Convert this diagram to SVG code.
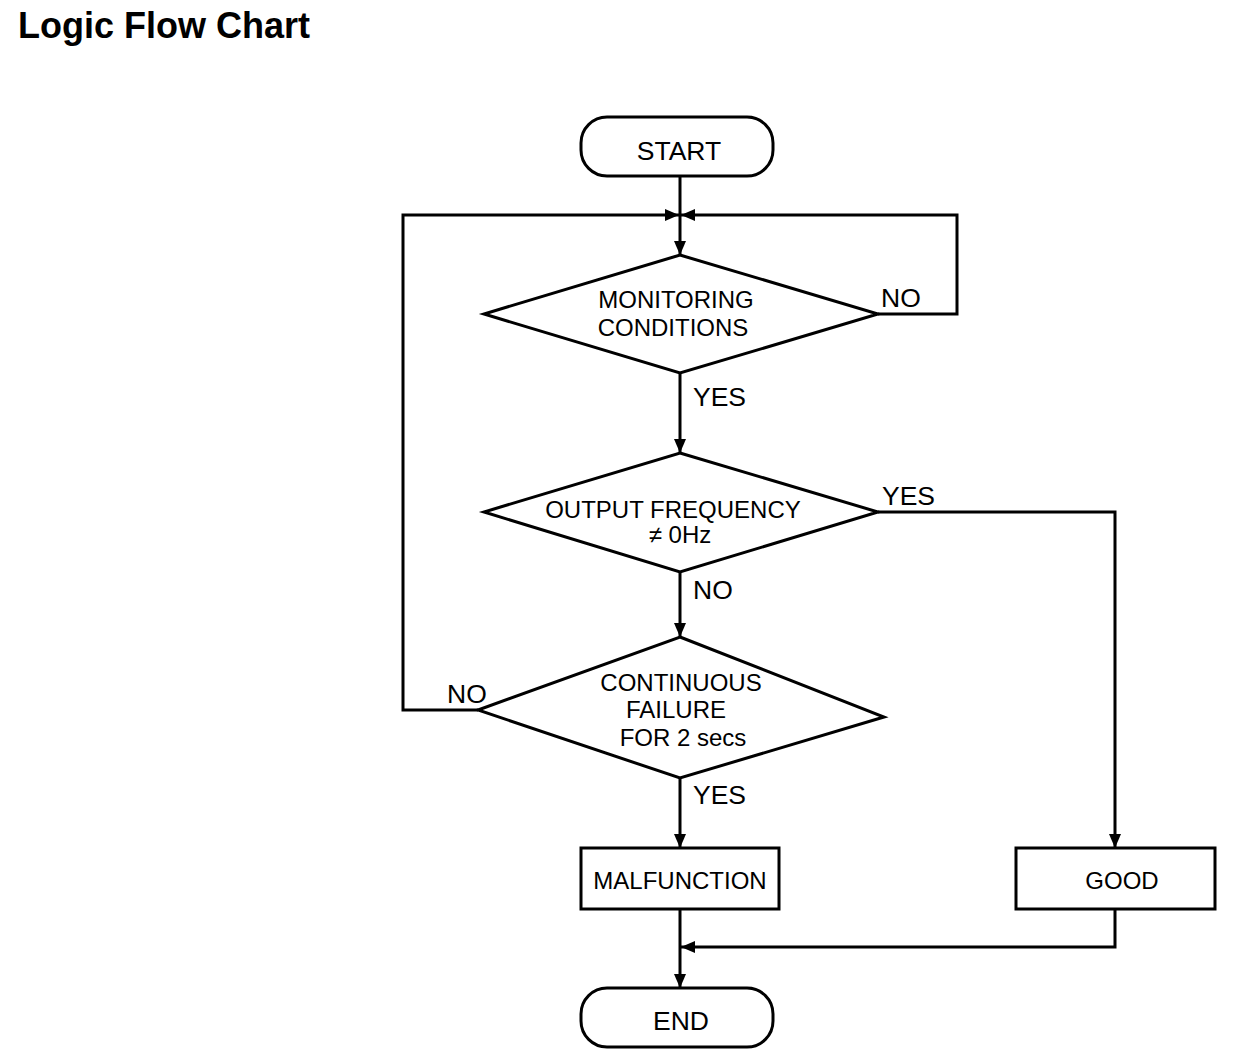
<svg xmlns="http://www.w3.org/2000/svg" width="1248" height="1062" viewBox="0 0 1248 1062">
<style>
.shape{fill:#fff;stroke:#000;stroke-width:3}
.line{fill:none;stroke:#000;stroke-width:3}
text{font-family:"Liberation Sans",Arial,sans-serif;fill:#000}
.t{font-size:24px;text-anchor:middle}
.term{font-size:26.5px;text-anchor:middle}
.lbl{font-size:26.5px}
.title{font-size:36px;font-weight:bold}
</style>
<defs>
<marker id="arr" markerUnits="userSpaceOnUse" markerWidth="14" markerHeight="12" refX="14" refY="6" orient="auto">
<path d="M0,0 L14,6 L0,12 Z" fill="#000"/>
</marker>
</defs>
<rect width="1248" height="1062" fill="#fff"/>
<text class="title" x="18" y="38">Logic Flow Chart</text>

<g id="connectors">
<path class="line" d="M680,176 V255" marker-end="url(#arr)"/>
<path class="line" d="M478,710 H403 V215 H679" marker-end="url(#arr)"/>
<path class="line" d="M878,314 H957 V215 H681" marker-end="url(#arr)"/>
<path class="line" d="M680,373 V453" marker-end="url(#arr)"/>
<path class="line" d="M878,512 H1115 V848" marker-end="url(#arr)"/>
<path class="line" d="M680,572 V637" marker-end="url(#arr)"/>
<path class="line" d="M680,778 V848" marker-end="url(#arr)"/>
<path class="line" d="M680,909 V988" marker-end="url(#arr)"/>
<path class="line" d="M1115,909 V947 H681" marker-end="url(#arr)"/>
<text class="lbl" x="881" y="307">NO</text>
<text class="lbl" x="693" y="406">YES</text>
<text class="lbl" x="882" y="505">YES</text>
<text class="lbl" x="693" y="599">NO</text>
<text class="lbl" x="447" y="703">NO</text>
<text class="lbl" x="693" y="804">YES</text>
</g>

<g id="start">
<rect class="shape" x="581" y="117" width="192" height="59" rx="26"/>
<text class="term" x="679" y="160">START</text>
</g>

<g id="monitoring">
<path class="shape" d="M680,255 L878,314 L680,373 L484,314 Z"/>
<text class="t" x="676" y="308">MONITORING</text>
<text class="t" x="673" y="336">CONDITIONS</text>
</g>

<g id="frequency">
<path class="shape" d="M680,453 L878,512 L680,572 L484,512 Z"/>
<text class="t" x="673" y="518">OUTPUT FREQUENCY</text>
<text class="t" x="680" y="543">≠ 0Hz</text>
</g>

<g id="continuous">
<path class="shape" d="M680,637 L884,717 L680,778 L478,710 Z"/>
<text class="t" x="681" y="691">CONTINUOUS</text>
<text class="t" x="676" y="718">FAILURE</text>
<text class="t" x="683" y="746">FOR 2 secs</text>
</g>

<g id="malfunction">
<rect class="shape" x="581" y="848" width="198" height="61"/>
<text class="t" x="680" y="889">MALFUNCTION</text>
</g>

<g id="good">
<rect class="shape" x="1016" y="848" width="199" height="61"/>
<text class="t" x="1122" y="889">GOOD</text>
</g>

<g id="end">
<rect class="shape" x="581" y="988" width="192" height="59" rx="26"/>
<text class="term" x="681" y="1030">END</text>
</g>
</svg>
